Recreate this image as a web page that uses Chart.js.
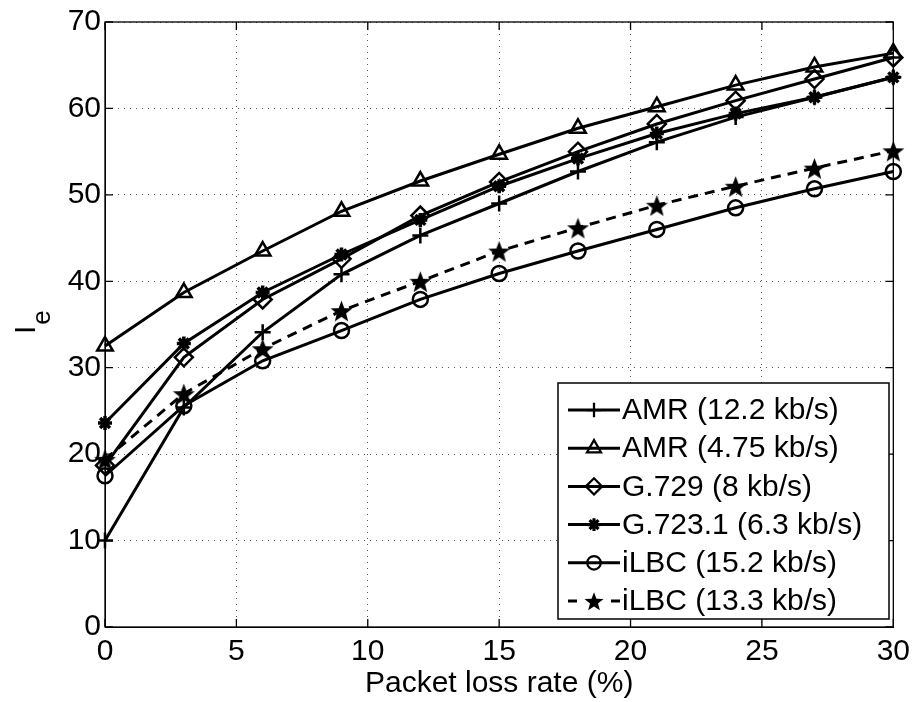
<!DOCTYPE html>
<html>
<head>
<meta charset="utf-8">
<script src="https://cdn.jsdelivr.net/npm/chart.js@4/dist/chart.umd.min.js"></script>
<style>
  html, body { margin: 0; padding: 0; background: #fff; }
  #wrap { width: 917px; height: 702px; }
</style>
</head>
<body>
<div id="wrap"><canvas id="chart" width="917" height="702"></canvas></div>
<script>
// packet loss rate (%) and Ie per codec
var lossRate = [0, 3, 6, 9, 12, 15, 18, 21, 24, 27, 30];
var amr122  = [10.0, 25.4, 34.1, 40.8, 45.3, 49.0, 52.7, 56.1, 59.0, 61.3, 63.6];
var amr475  = [32.5, 38.7, 43.5, 48.1, 51.6, 54.7, 57.7, 60.2, 62.7, 64.8, 66.4];
var g729    = [18.7, 31.2, 37.9, 42.6, 47.6, 51.5, 55.0, 58.2, 60.9, 63.4, 65.9];
var g7231   = [23.6, 32.8, 38.7, 43.1, 47.1, 51.0, 54.2, 57.1, 59.4, 61.3, 63.6];
var ilbc152 = [17.5, 25.6, 30.8, 34.3, 37.9, 40.9, 43.5, 46.0, 48.5, 50.7, 52.7];
var ilbc133 = [19.4, 27.0, 32.2, 36.6, 40.0, 43.5, 46.2, 48.8, 51.0, 53.1, 55.1];
var seriesNames = ['AMR (12.2 kb/s)', 'AMR (4.75 kb/s)', 'G.729 (8 kb/s)', 'G.723.1 (6.3 kb/s)', 'iLBC (15.2 kb/s)', 'iLBC (13.3 kb/s)'];
var xTicks = [0, 5, 10, 15, 20, 25, 30];
var yTicks = [0, 10, 20, 30, 40, 50, 60, 70];

var FONT = '"Liberation Sans", Arial, Helvetica, sans-serif';

function makeStar( size )
{
    var c = document.createElement( 'canvas' );
    c.width = size; c.height = size;
    var g = c.getContext( '2d' );
    var cx = size / 2, cy = size / 2 + size * 0.06, R = size / 2, r = R * 0.42;
    g.beginPath();
    for ( var i = 0; i < 10; i++ ) {
        var a = -Math.PI / 2 + i * Math.PI / 5;
        var rr = i % 2 === 0 ? R : r;
        g.lineTo( cx + rr * Math.cos( a ), cy + rr * Math.sin( a ) );
    }
    g.closePath();
    g.fillStyle = '#000';
    g.fill();
    return c;
}
var starBig = makeStar( 23 );
var starSmall = makeStar( 20 );

function toPoints( ys )
{
    return lossRate.map( function( x, i ) { return { x: x, y: ys[i] }; } );
}

function series( label, ys, style, radius, dashed )
{
    return {
        label: label,
        data: toPoints( ys ),
        borderColor: '#000',
        backgroundColor: 'rgba(0,0,0,0)',
        borderWidth: 3,
        borderDash: dashed ? [10, 7] : [],
        pointStyle: style,
        pointRadius: radius,
        pointHoverRadius: radius,
        pointBorderColor: '#000',
        pointBackgroundColor: 'rgba(0,0,0,0)',
        pointBorderWidth: 2.5,
        tension: 0,
        clip: false
    };
}

var datasets = [
    series( seriesNames[0], amr122, 'cross', 8 ),
    series( seriesNames[1], amr475, 'triangle', 9 ),
    series( seriesNames[2], g729, 'rectRot', 9 ),
    series( seriesNames[3], g7231, 'star', 7 ),
    series( seriesNames[4], ilbc152, 'circle', 7.5 ),
    series( seriesNames[5], ilbc133, starBig, 11, true )
];
datasets[3].pointBorderWidth = 3.5;

// box, inward ticks, y title and legend
var matlabLook = {
    id: 'matlabLook',
    afterDraw: function( chart ) {
        var ctx = chart.ctx, a = chart.chartArea;
        var xs = chart.scales.x, ys = chart.scales.y;
        ctx.save();
        ctx.strokeStyle = '#000';
        ctx.lineWidth = 1.3;
        ctx.setLineDash( [] );
        ctx.strokeRect( a.left, a.top, a.right - a.left, a.bottom - a.top );
        ctx.beginPath();
        xTicks.forEach( function( t ) {
            var px = xs.getPixelForValue( t );
            ctx.moveTo( px, a.bottom ); ctx.lineTo( px, a.bottom - 8 );
            ctx.moveTo( px, a.top ); ctx.lineTo( px, a.top + 8 );
        } );
        yTicks.forEach( function( t ) {
            var py = ys.getPixelForValue( t );
            ctx.moveTo( a.left, py ); ctx.lineTo( a.left + 8, py );
            ctx.moveTo( a.right, py ); ctx.lineTo( a.right - 8, py );
        } );
        ctx.stroke();

        // y title: I with subscript e
        ctx.fillStyle = '#000';
        ctx.translate( 35, 334 );
        ctx.rotate( -Math.PI / 2 );
        ctx.font = '30px ' + FONT;
        ctx.textBaseline = 'alphabetic';
        ctx.textAlign = 'left';
        ctx.fillText( 'I', 0, 0 );
        var w = ctx.measureText( 'I' ).width;
        ctx.font = '26px ' + FONT;
        ctx.fillText( 'e', w + 1, 15 );
        ctx.restore();

        // legend
        var lx = 558, ly = 383, lw = 331, lh = 236;
        ctx.save();
        ctx.fillStyle = '#fff';
        ctx.fillRect( lx, ly, lw, lh );
        ctx.strokeStyle = '#000';
        ctx.lineWidth = 1.5;
        ctx.strokeRect( lx, ly, lw, lh );
        ctx.textBaseline = 'middle';
        ctx.textAlign = 'left';
        chart.data.datasets.forEach( function( ds, i ) {
            var cy = ly + 27 + i * 38.2;
            ctx.strokeStyle = '#000';
            ctx.lineWidth = 3;
            ctx.setLineDash( [] );
            if ( ds.borderDash.length ) {
                ctx.beginPath();
                ctx.moveTo( 568, cy ); ctx.lineTo( 577, cy );
                ctx.stroke();
                ctx.beginPath();
                ctx.moveTo( 611, cy ); ctx.lineTo( 620, cy );
                ctx.stroke();
            } else {
                ctx.beginPath();
                ctx.moveTo( 568, cy ); ctx.lineTo( 620, cy );
                ctx.stroke();
            }
            var style = ds.pointStyle === starBig ? starSmall : ds.pointStyle;
            ctx.fillStyle = 'rgba(0,0,0,0)';
            ctx.lineWidth = ds.pointBorderWidth * 0.9;
            Chart.helpers.drawPoint( ctx, {
                pointStyle: style,
                radius: ds.pointRadius * 0.9,
                rotation: 0,
                borderWidth: ds.pointBorderWidth * 0.9
            }, 594, cy );
            ctx.fillStyle = '#000';
            ctx.font = '30px ' + FONT;
            ctx.fillText( ds.label, 622, cy + 1 );
        } );
        ctx.restore();
    }
};

var ctx = document.getElementById( 'chart' ).getContext( '2d' );
var chart = new Chart( ctx, {
    type: 'line',
    data: { datasets: datasets },
    options: {
        responsive: false,
        animation: false,
        events: [],
        layout: { padding: { top: 20, right: 19, left: 0, bottom: 0 } },
        plugins: {
            legend: { display: false },
            tooltip: { enabled: false }
        },
        scales: {
            x: {
                type: 'linear',
                min: 0, max: 30,
                afterBuildTicks: function( s ) { s.ticks = xTicks.map( function( v ) { return { value: v }; } ); },
                afterFit: function( s ) { s.height = 75; },
                ticks: { color: '#000', font: { family: FONT, size: 30 }, padding: 7, maxRotation: 0 },
                grid: { color: '#555', lineWidth: 1, drawTicks: false },
                border: { display: true, color: '#000', dash: [1, 5] },
                title: { display: true, text: 'Packet loss rate (%)', color: '#000', font: { family: FONT, size: 30 }, padding: { top: 0, bottom: 0 } }
            },
            y: {
                type: 'linear',
                min: 0, max: 70,
                afterBuildTicks: function( s ) { s.ticks = yTicks.map( function( v ) { return { value: v }; } ); },
                afterFit: function( s ) { s.width = 105; },
                ticks: { color: '#000', font: { family: FONT, size: 30 }, padding: 4 },
                grid: { color: '#555', lineWidth: 1, drawTicks: false },
                border: { display: true, color: '#000', dash: [1, 5] }
            }
        }
    },
    plugins: [ matlabLook ]
} );
</script>
</body>
</html>
